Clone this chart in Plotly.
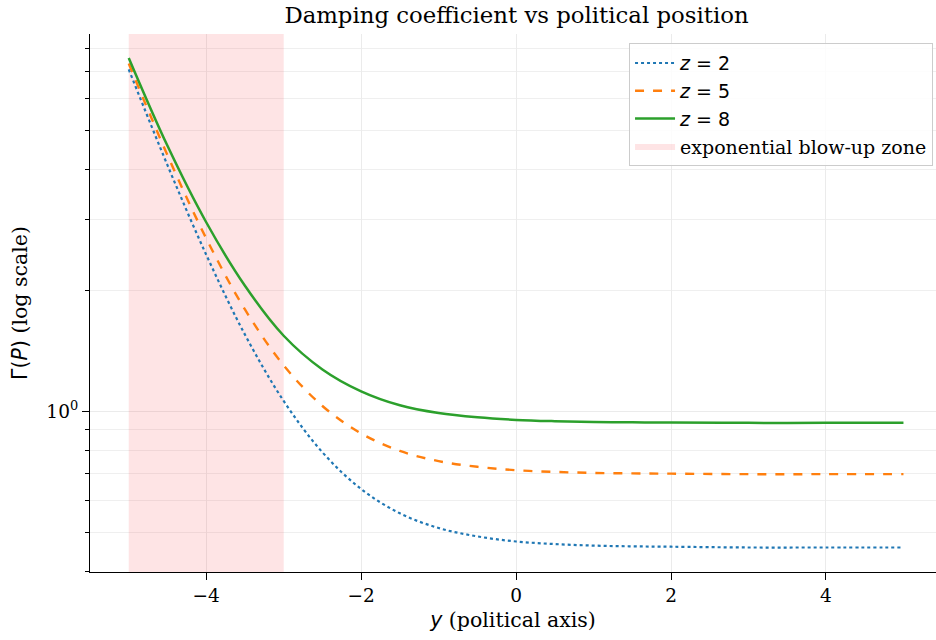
import plotly.graph_objects as go
import numpy as np

# ---- data ----
y_pos = [-5, -4.5, -4, -3.5, -3, -2.5, -2, -1.5, -1, -0.5, 0, 0.5, 1, 1.5, 2, 3, 4, 5]
gamma_z2 = [7.08, 4.09, 2.45, 1.55, 1.06, 0.79, 0.64, 0.557, 0.512, 0.488, 0.474,
            0.467, 0.463, 0.461, 0.460, 0.458, 0.458, 0.458]
gamma_z5 = [7.32, 4.33, 2.69, 1.79, 1.30, 1.03, 0.88, 0.796, 0.751, 0.727, 0.713,
            0.706, 0.702, 0.700, 0.699, 0.697, 0.697, 0.697]
gamma_z8 = [7.56, 4.57, 2.95, 2.05, 1.54, 1.27, 1.12, 1.034, 0.989, 0.965, 0.951,
            0.944, 0.940, 0.938, 0.937, 0.935, 0.935, 0.935]
zone = [-5, -3]
x_ticks = [-4, -2, 0, 2, 4]
y_minor = [0.4, 0.5, 0.6, 0.7, 0.8, 0.9, 2, 3, 4, 5, 6, 7, 8]

SANS = "DejaVu Sans"
SERIF = "DejaVu Serif"
FS = 18.5
FS_LABEL = 20.5
FS_LEG = 19

def zlabel(v):
    return f"<span style=\"font-family:'{SANS}'\"><i>z</i> = {v}</span>"

fig = go.Figure()

# shaded zone (as a filled polygon so it appears in the legend)
fig.add_trace(go.Scatter(
    x=[zone[0], zone[1], zone[1], zone[0], zone[0]],
    y=[0.1, 0.1, 100, 100, 0.1],
    fill="toself", fillcolor="rgba(245,30,40,0.12)",
    line=dict(width=0), mode="lines",
    name="exponential blow-up zone", hoverinfo="skip",
))

series = [
    (gamma_z2, "#1f77b4", "dot", 2.2, zlabel(2)),
    (gamma_z5, "#ff7f0e", "dash", 2.4, zlabel(5)),
    (gamma_z8, "#2ca02c", "solid", 2.5, zlabel(8)),
]
for vals, col, dash, w, name in series:
    fig.add_trace(go.Scatter(
        x=y_pos, y=vals, mode="lines", name=name,
        line=dict(color=col, dash=dash, width=w, shape="spline", smoothing=1.0),
    ))

for i, tr in enumerate(fig.data):
    tr.legendrank = 1000 if i == 0 else i

axis_font = dict(family=SERIF, size=FS, color="black")
label_font = dict(family=SERIF, size=FS_LABEL, color="black")

fig.update_layout(
    width=936, height=640,
    margin=dict(l=90, r=0, t=34, b=68),
    paper_bgcolor="white", plot_bgcolor="white",
    font=dict(family=SERIF, size=FS, color="black"),
    title=dict(
        text="Damping coefficient vs political position",
        font=dict(family=SERIF, size=22.8, color="black"),
        x=516.5 / 936, xref="container", xanchor="center",
        y=1 - 15 / 640, yref="container", yanchor="middle",
    ),
    showlegend=True,
    legend=dict(
        x=0.9965, y=0.983, xanchor="right", yanchor="top",
        bgcolor="rgba(255,255,255,0.85)", bordercolor="#cccccc", borderwidth=1,
        font=dict(family=SERIF, size=FS_LEG, color="black"),
        itemwidth=40, tracegroupgap=4,
    ),
    xaxis=dict(
        range=[-5.5, 5.42], tickvals=x_ticks,
        showline=True, linecolor="black", linewidth=1.3,
        ticks="outside", ticklen=7, tickwidth=1.3, tickcolor="black",
        showgrid=True, gridcolor="#ebebeb", gridwidth=1, zeroline=False,
        tickfont=axis_font,
        title=dict(
            text=f"<span style=\"font-family:'{SANS}'\"><i>y</i></span> (political axis)",
            font=label_font, standoff=7,
        ),
        automargin=False,
    ),
    yaxis=dict(
        type="log", range=[np.log10(0.398), np.log10(8.67)],
        tickvals=[1], ticktext=["10<sup>0</sup>"],
        showline=True, linecolor="black", linewidth=1.3,
        ticks="outside", ticklen=7, tickwidth=1.3, tickcolor="black",
        showgrid=True, gridcolor="#ebebeb", gridwidth=1, zeroline=False,
        tickfont=axis_font,
        minor=dict(tickmode="array", tickvals=y_minor, ticks="outside", ticklen=4,
                   tickwidth=1, tickcolor="black", showgrid=True,
                   gridcolor="#efefef", gridwidth=1),
        title=dict(
            text=f"<span style=\"font-family:'{SANS}'\">Γ(<i>P</i>)</span> (log scale)",
            font=label_font, standoff=13,
        ),
        automargin=False,
    ),
)

fig.write_html("out.html")
